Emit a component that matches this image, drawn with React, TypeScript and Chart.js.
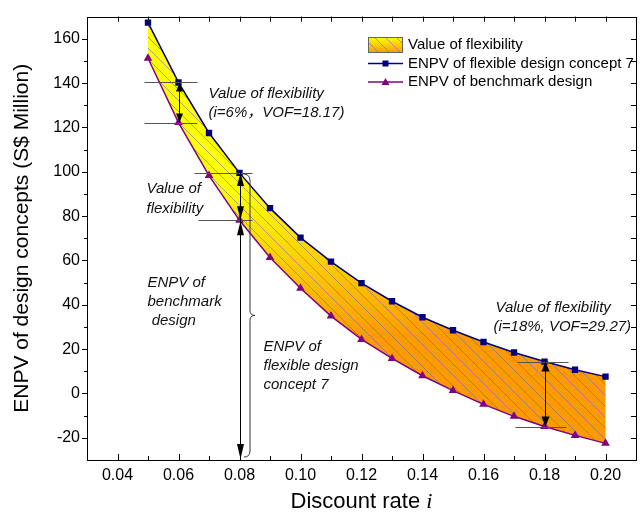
import React, { useEffect, useRef } from "react";
import { Chart, registerables } from "chart.js";

Chart.register(...registerables);

// ---- data ----
const discountRates = [0.05, 0.06, 0.07, 0.08, 0.09, 0.1, 0.11, 0.12, 0.13, 0.14, 0.15, 0.16, 0.17, 0.18, 0.19, 0.2];
const flexibleENPV = [167.3, 140.3, 117.5, 99.5, 83.6, 70.3, 59.5, 49.8, 41.6, 34.4, 28.5, 23.2, 18.5, 14.4, 10.7, 7.6];
const benchmarkENPV = [151.2, 122.2, 98.3, 78.1, 61.3, 47.5, 34.9, 24.4, 15.8, 8.0, 1.3, -4.9, -10.3, -14.9, -18.9, -22.5];

const xTickValues = [0.04, 0.06, 0.08, 0.1, 0.12, 0.14, 0.16, 0.18, 0.2];
const xMinorTickValues = [0.05, 0.07, 0.09, 0.11, 0.13, 0.15, 0.17, 0.19];
const yTickValues = [-20, 0, 20, 40, 60, 80, 100, 120, 140, 160];
const yMinorTickValues = [-10, 10, 30, 50, 70, 90, 110, 130, 150];

const seriesLabels = ["Value of flexibility", "ENPV of flexible design concept 7", "ENPV of benchmark design"];
const xTitle = "Discount rate ";
const xTitleVar = "i";
const yTitle = "ENPV of design concepts (S$ Million)";

const FONT = "'Liberation Sans', Arial, 'Noto Sans CJK SC', sans-serif";
const NAVY = "#000080";
const PURPLE = "#800080";
const HATCH = "rgba(90,115,165,0.6)";

function hatchLines(ctx: CanvasRenderingContext2D, l: number, t: number, w: number, h: number, gap: number) {
  ctx.beginPath();
  for (let k = -h; k < w + gap; k += gap) {
    ctx.moveTo(l + k, t);
    ctx.lineTo(l + k + h, t + h);
  }
  ctx.stroke();
}

function arrowHead(ctx: CanvasRenderingContext2D, x: number, yTip: number, dir: number, len: number, halfW: number) {
  // dir = -1 points up, +1 points down
  ctx.beginPath();
  ctx.moveTo(x, yTip);
  ctx.lineTo(x - halfW, yTip - dir * len);
  ctx.lineTo(x + halfW, yTip - dir * len);
  ctx.closePath();
  ctx.fill();
}

function bandGradient(ctx: CanvasRenderingContext2D, y0: number, y1: number) {
  const g = ctx.createLinearGradient(0, y0, 0, y1);
  g.addColorStop(0, "#FFFF00");
  g.addColorStop(0.5, "#FFCC00");
  g.addColorStop(1, "#FF9900");
  return g;
}

const customPlugin = {
  id: "customDraw",
  beforeDatasetsDraw(chart: any) {
    const ctx: CanvasRenderingContext2D = chart.ctx;
    const { left, top, right, bottom } = chart.chartArea;
    const m0 = chart.getDatasetMeta(0).data;
    const m1 = chart.getDatasetMeta(1).data;
    ctx.save();
    ctx.beginPath();
    ctx.rect(left, top, right - left, bottom - top);
    ctx.clip();
    ctx.beginPath();
    m0.forEach((p: any, i: number) => (i ? ctx.lineTo(p.x, p.y) : ctx.moveTo(p.x, p.y)));
    for (let i = m1.length - 1; i >= 0; i--) ctx.lineTo(m1[i].x, m1[i].y);
    ctx.closePath();
    ctx.fillStyle = bandGradient(ctx, top + 175, top + 320);
    ctx.fill();
    ctx.clip();
    ctx.strokeStyle = HATCH;
    ctx.lineWidth = 1;
    hatchLines(ctx, left, top, right - left, bottom - top, 11);
    ctx.restore();
  },
  afterDatasetsDraw(chart: any) {
    const ctx: CanvasRenderingContext2D = chart.ctx;
    const xs = chart.scales.x;
    const ys = chart.scales.y;
    const { left, top, right, bottom } = chart.chartArea;
    const X = (v: number) => xs.getPixelForValue(v);
    const Y = (v: number) => ys.getPixelForValue(v);

    ctx.save();
    // frame
    ctx.strokeStyle = "#000";
    ctx.lineWidth = 1;
    ctx.strokeRect(Math.round(left) + 0.5, Math.round(top) + 0.5, Math.round(right - left), Math.round(bottom - top));

    // ticks
    ctx.beginPath();
    const allX = [...xTickValues, ...xMinorTickValues];
    xTickValues.forEach((v) => {
      const px = Math.round(X(v)) + 0.5;
      ctx.moveTo(px, bottom);
      ctx.lineTo(px, bottom - 6);
    });
    xMinorTickValues.forEach((v) => {
      const px = Math.round(X(v)) + 0.5;
      ctx.moveTo(px, bottom);
      ctx.lineTo(px, bottom - 4);
    });
    allX.forEach((v) => {
      const px = Math.round(X(v)) + 0.5;
      ctx.moveTo(px, top);
      ctx.lineTo(px, top + 5);
    });
    yTickValues.forEach((v) => {
      const py = Math.round(Y(v)) + 0.5;
      ctx.moveTo(left, py);
      ctx.lineTo(left - 5, py);
      ctx.moveTo(right, py);
      ctx.lineTo(right - 5, py);
    });
    yMinorTickValues.forEach((v) => {
      const py = Math.round(Y(v)) + 0.5;
      ctx.moveTo(left, py);
      ctx.lineTo(left - 3, py);
      ctx.moveTo(right, py);
      ctx.lineTo(right - 5, py);
    });
    ctx.stroke();

    // ---- annotations ----
    const i6 = 1, i8 = 3, i18 = 13;
    const x6 = Math.round(X(discountRates[i6])) + 0.5;
    const x8 = Math.round(X(discountRates[i8])) + 0.5;
    const x18 = Math.round(X(discountRates[i18])) + 0.5;
    const f6 = Y(flexibleENPV[i6]), b6 = Y(benchmarkENPV[i6]);
    const f8 = Y(flexibleENPV[i8]), b8 = Y(benchmarkENPV[i8]);
    const f18 = Y(flexibleENPV[i18]), b18 = Y(benchmarkENPV[i18]);

    // reference lines
    ctx.strokeStyle = "#555";
    ctx.lineWidth = 1;
    ctx.beginPath();
    ctx.moveTo(x6 - 35, Math.round(f6) + 0.5); ctx.lineTo(x6 + 18, Math.round(f6) + 0.5);
    ctx.moveTo(x6 - 35, Math.round(b6) + 0.5); ctx.lineTo(x6 + 18, Math.round(b6) + 0.5);
    ctx.moveTo(x8 - 46, Math.round(f8) + 0.5); ctx.lineTo(x8 + 12, Math.round(f8) + 0.5);
    ctx.moveTo(x8 - 42, Math.round(b8) + 0.5); ctx.lineTo(x8 + 12, Math.round(b8) + 0.5);
    ctx.moveTo(x18 - 28, Math.round(f18) + 0.5); ctx.lineTo(x18 + 23, Math.round(f18) + 0.5);
    ctx.moveTo(x18 - 30, Math.round(b18) + 0.5); ctx.lineTo(x18 + 21, Math.round(b18) + 0.5);
    ctx.stroke();

    // arrows
    ctx.strokeStyle = "#000";
    ctx.fillStyle = "#000";
    ctx.beginPath();
    ctx.moveTo(x6, f6); ctx.lineTo(x6, b6);
    ctx.moveTo(x8, f8); ctx.lineTo(x8, bottom);
    ctx.moveTo(x18, f18); ctx.lineTo(x18, b18);
    ctx.stroke();
    arrowHead(ctx, x6, f6, -1, 9, 3.5);
    arrowHead(ctx, x6, b6, 1, 9, 3.5);
    arrowHead(ctx, x8, f8, -1, 13, 3.5);
    arrowHead(ctx, x8, b8 - 1, 1, 13, 3.5);
    arrowHead(ctx, x8, b8 + 1, -1, 14, 3.5);
    arrowHead(ctx, x8, bottom - 1, 1, 15, 3.5);
    arrowHead(ctx, x18, f18, -1, 10, 4);
    arrowHead(ctx, x18, b18, 1, 10, 4);

    // brace
    const bx = x8 + 9.5;
    const bTop = f8 + 1;
    const bBot = bottom - 3;
    const bMid = (bTop + bBot) / 2;
    ctx.strokeStyle = "#333";
    ctx.beginPath();
    ctx.moveTo(bx - 7, bTop);
    ctx.quadraticCurveTo(bx, bTop, bx, bTop + 7);
    ctx.lineTo(bx, bMid - 5);
    ctx.quadraticCurveTo(bx, bMid, bx + 5, bMid);
    ctx.quadraticCurveTo(bx, bMid, bx, bMid + 5);
    ctx.lineTo(bx, bBot - 6);
    ctx.quadraticCurveTo(bx, bBot, bx - 6, bBot);
    ctx.stroke();

    // texts
    ctx.fillStyle = "#111";
    ctx.font = `italic 15px ${FONT}`;
    ctx.textAlign = "left";
    ctx.textBaseline = "middle";
    const texts: [string, number, number][] = [
      ["Value of flexibility", x6 + 29, f6 + 11],
      ["(i=6%，VOF=18.17)", x6 + 29, f6 + 30],
      ["Value of", x8 - 94, f8 + 16],
      ["flexibility", x8 - 94, f8 + 36],
      ["ENPV of", x8 - 93, b8 + 62],
      ["benchmark", x8 - 93, b8 + 81],
      [" design", x8 - 93, b8 + 100],
      ["ENPV of", x8 + 23, bMid + 31],
      ["flexible design", x8 + 23, bMid + 50],
      ["concept 7", x8 + 23, bMid + 69],
      ["Value of flexibility", x18 - 50, f18 - 54],
      ["(i=18%, VOF=29.27)", x18 - 52, f18 - 35],
    ];
    texts.forEach(([t, tx, ty]) => ctx.fillText(t, tx, ty));

    // ---- legend ----
    const lx = 368, lw = 35, tx = 408;
    const r1 = 45, r2 = 63.5, r3 = 82;
    ctx.fillStyle = bandGradient(ctx, r1 - 8, r1 + 8);
    ctx.fillRect(lx, r1 - 8, lw, 16);
    ctx.save();
    ctx.beginPath();
    ctx.rect(lx, r1 - 8, lw, 16);
    ctx.clip();
    ctx.strokeStyle = HATCH;
    hatchLines(ctx, lx, r1 - 8, lw, 16, 11);
    ctx.restore();
    ctx.strokeStyle = "#666";
    ctx.strokeRect(lx + 0.5, r1 - 8 + 0.5, lw - 1, 15);

    ctx.lineWidth = 1.5;
    ctx.strokeStyle = NAVY;
    ctx.beginPath();
    ctx.moveTo(lx, r2); ctx.lineTo(lx + lw, r2);
    ctx.stroke();
    ctx.fillStyle = NAVY;
    ctx.fillRect(lx + lw / 2 - 3, r2 - 3, 6, 6);

    ctx.strokeStyle = PURPLE;
    ctx.beginPath();
    ctx.moveTo(lx, r3); ctx.lineTo(lx + lw, r3);
    ctx.stroke();
    ctx.fillStyle = PURPLE;
    ctx.beginPath();
    ctx.moveTo(lx + lw / 2, r3 - 4);
    ctx.lineTo(lx + lw / 2 - 4, r3 + 3);
    ctx.lineTo(lx + lw / 2 + 4, r3 + 3);
    ctx.closePath();
    ctx.fill();

    ctx.fillStyle = "#000";
    ctx.font = `15px ${FONT}`;
    ctx.fillText(seriesLabels[0], tx, r1);
    ctx.fillText(seriesLabels[1], tx, r2);
    ctx.fillText(seriesLabels[2], tx, r3);

    // ---- axis titles ----
    ctx.font = `22px ${FONT}`;
    const w1 = ctx.measureText(xTitle).width;
    ctx.font = `italic 22px 'Liberation Serif', 'Times New Roman', serif`;
    const w2 = ctx.measureText(xTitleVar).width;
    const cx = (left + right) / 2;
    const startX = cx - (w1 + w2) / 2;
    ctx.textBaseline = "alphabetic";
    ctx.font = `22px ${FONT}`;
    ctx.fillText(xTitle, startX, 508);
    ctx.font = `italic 22px 'Liberation Serif', 'Times New Roman', serif`;
    ctx.fillText(xTitleVar, startX + w1, 508);

    ctx.save();
    ctx.translate(22, (top + bottom) / 2);
    ctx.rotate(-Math.PI / 2);
    ctx.textAlign = "center";
    ctx.textBaseline = "middle";
    ctx.font = `21px ${FONT}`;
    ctx.fillText(yTitle, 0, 0);
    ctx.restore();

    ctx.restore();
  },
};

export default function App() {
  const ref = useRef<HTMLCanvasElement | null>(null);
  useEffect(() => {
    if (!ref.current) return;
    const chart = new Chart(ref.current, {
      type: "line",
      data: {
        datasets: [
          {
            label: seriesLabels[1],
            data: discountRates.map((x, i) => ({ x, y: flexibleENPV[i] })),
            borderColor: NAVY,
            backgroundColor: NAVY,
            borderWidth: 1.5,
            pointStyle: "rect",
            pointRadius: 4.5,
            pointBorderWidth: 0,
            fill: false,
            tension: 0,
          },
          {
            label: seriesLabels[2],
            data: discountRates.map((x, i) => ({ x, y: benchmarkENPV[i] })),
            borderColor: PURPLE,
            backgroundColor: PURPLE,
            borderWidth: 1.5,
            pointStyle: "triangle",
            pointRadius: 5,
            pointBorderWidth: 0,
            fill: false,
            tension: 0,
          },
        ],
      },
      options: {
        animation: false,
        responsive: false,
        devicePixelRatio: 1,
        layout: { padding: { top: 13, right: 6, left: 0, bottom: 0 } },
        plugins: { legend: { display: false }, tooltip: { enabled: false } },
        scales: {
          x: {
            type: "linear",
            min: 0.03,
            max: 0.21,
            grid: { display: false, drawTicks: false },
            border: { display: false },
            ticks: {
              color: "#000",
              font: { size: 16, family: FONT },
              padding: 6,
              maxRotation: 0,
              autoSkip: false,
              callback: (v: any) => Number(v).toFixed(2),
            },
            afterBuildTicks: (s: any) => {
              s.ticks = xTickValues.map((v) => ({ value: v }));
            },
            afterFit: (s: any) => {
              s.height = 53;
            },
          },
          y: {
            type: "linear",
            min: -30,
            max: 170,
            grid: { display: false, drawTicks: false },
            border: { display: false },
            ticks: {
              color: "#000",
              font: { size: 16, family: FONT },
              padding: 7,
              autoSkip: false,
              callback: (v: any) => String(v),
            },
            afterBuildTicks: (s: any) => {
              s.ticks = yTickValues.map((v) => ({ value: v }));
            },
            afterFit: (s: any) => {
              s.width = 87;
            },
          },
        },
      },
      plugins: [customPlugin],
    } as any);
    return () => chart.destroy();
  }, []);
  return (
    <div style={{ position: "fixed", left: 0, top: 0, width: 642, height: 513, background: "#fff" }}>
      <canvas ref={ref} width={642} height={513} style={{ display: "block", width: 642, height: 513 }} />
    </div>
  );
}
